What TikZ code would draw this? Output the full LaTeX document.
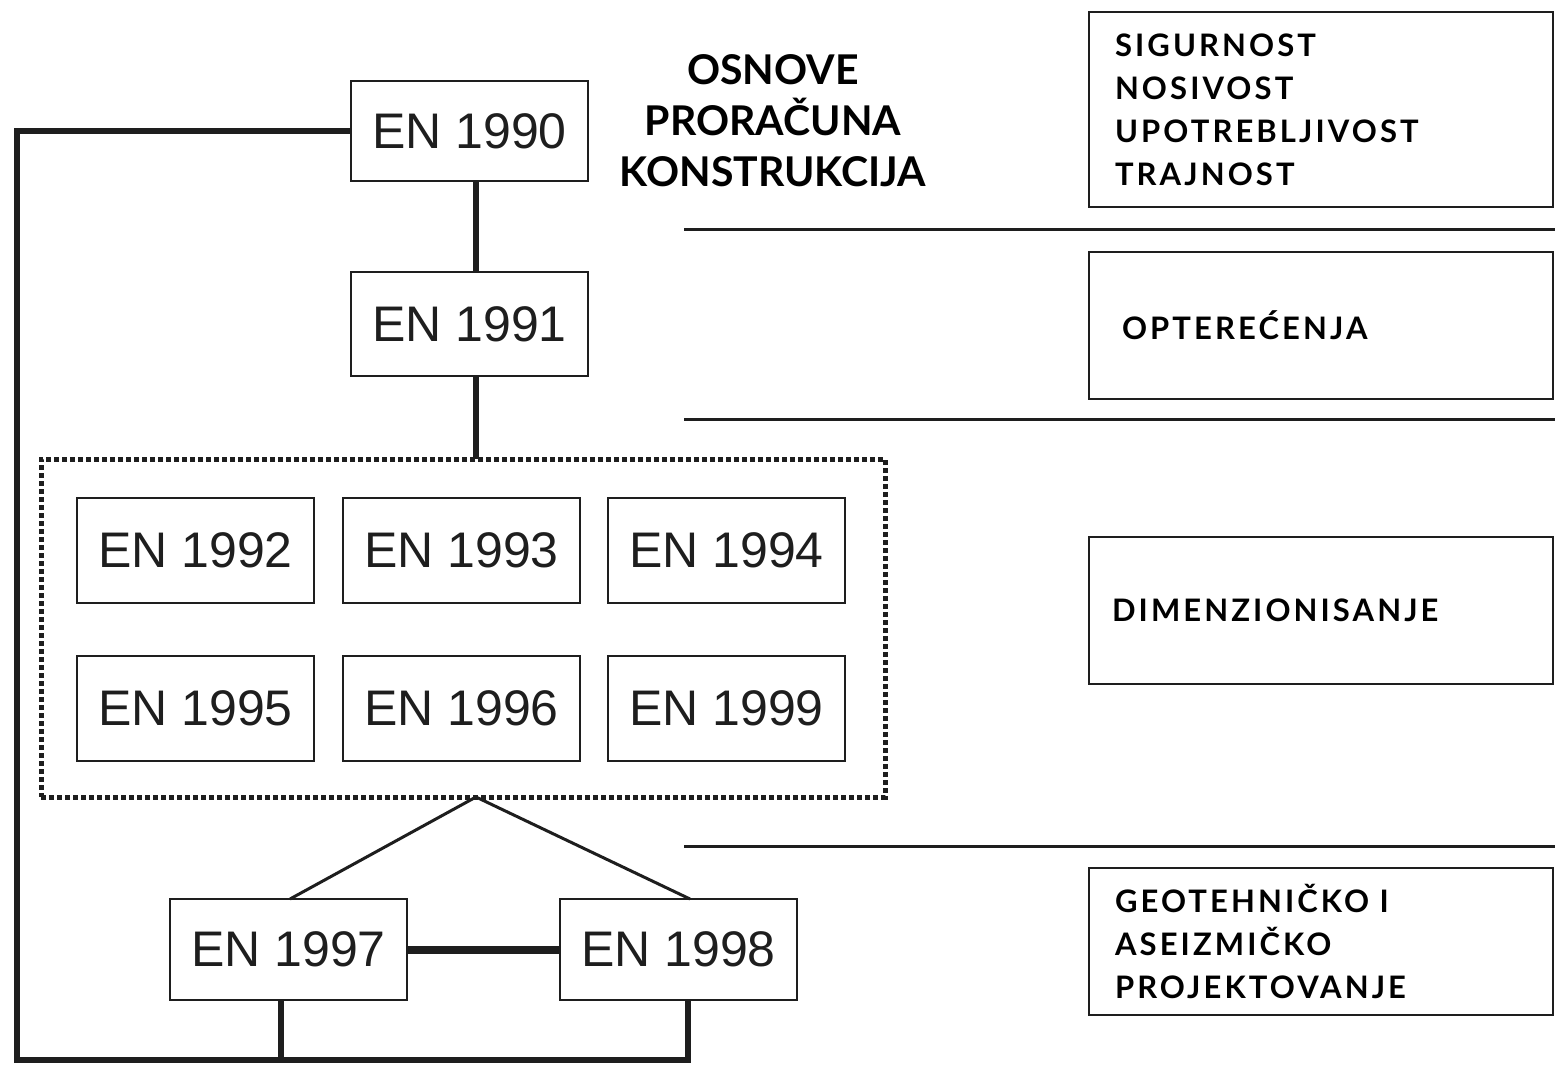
\documentclass[tikz,border=0pt]{standalone}
\usepackage{fontspec}
\setmainfont{Liberation Sans}
\newfontfamily\titlefont{Lato}[UprightFont=* Bold]
\newfontfamily\boxfont{Lato}[UprightFont=* Bold, LetterSpace=10]
\definecolor{ink}{HTML}{1E1E1E}
\begin{document}
\begin{tikzpicture}[x=1pt,y=-1pt,
  enbox/.style={draw=ink, line width=2.5pt, minimum width=237pt, minimum height=102pt,
     inner sep=0pt, font=\fontsize{50}{55}\selectfont, text=ink},
  rbox/.style={draw=ink, line width=2.5pt, minimum width=464pt, minimum height=147pt,
     text width=412pt, inner xsep=26pt, inner ysep=0pt, align=left,
     font=\boxfont\fontsize{31}{43}\selectfont},
  frame/.style={line width=6pt, draw=ink},
  thin/.style={line width=3pt, draw=ink},
  grp/.style={draw=ink, line width=5pt, dash pattern=on 5pt off 3pt,
     minimum width=844pt, minimum height=338pt, inner sep=0pt}
]
\useasboundingbox (0,0) rectangle (1555,1065);
% main column
\node[enbox, minimum height=100pt] (e1990) at (469.5,131) {EN 1990};
\node[enbox, minimum height=104pt] (e1991) at (469.5,324) {EN 1991};
\node[grp] (g) at (463,628) {};
\node[enbox, minimum height=105pt] (e1992) at (195.5,550.5) {EN 1992};
\node[enbox, minimum height=105pt] (e1993) at (461.5,550.5) {EN 1993};
\node[enbox, minimum height=105pt] (e1994) at (726.5,550.5) {EN 1994};
\node[enbox, minimum height=105pt] (e1995) at (195.5,708.5) {EN 1995};
\node[enbox, minimum height=105pt] (e1996) at (461.5,708.5) {EN 1996};
\node[enbox, minimum height=105pt] (e1999) at (726.5,708.5) {EN 1999};
\node[enbox, minimum height=101pt] (e1997) at (288.5,949.5) {EN 1997};
\node[enbox, minimum height=101pt] (e1998) at (678.5,949.5) {EN 1998};
% title
\node[font=\titlefont\fontsize{41}{51}\selectfont, align=center, text=black] (title) at (773,121)
  {OSNOVE\\PRORAČUNA\\KONSTRUKCIJA};
% connectors
\coordinate (apex) at (476,797);
\coordinate (bl) at (17,1060);
\draw[frame] (476,181) coordinate (a1) -- (476,272) coordinate (a2);
\draw[frame] (476,376) coordinate (a3) -- (476,459) coordinate (a4);
\draw[thin] (apex) -- (290,899) coordinate (t1);
\draw[thin] (apex) -- (690,899) coordinate (t2);
\draw[frame, line width=8pt] (e1997.east) -- (e1998.west);
\draw[frame] (e1990.west) -| (bl) -- (688,1060) coordinate (br) -- (688,1000) coordinate (b2);
\draw[frame] (281,1000) coordinate (b1) -- (281,1060) coordinate (bm);
% right column
\node[rbox, minimum height=195pt] (r1) at (1321,109.5) {SIGURNOST\\NOSIVOST\\UPOTREBLJIVOST\\TRAJNOST};
\node[rbox] (r2) at (1321,325.5) {\hspace*{7pt}OPTEREĆENJA};
\node[rbox] (r3) at (1321,610.5) {\hspace*{-3pt}DIMENZIONISANJE};
\node[rbox] (r4) at (1321,941.5) {GEOTEHNIČKO I\\ASEIZMIČKO\\PROJEKTOVANJE};
\draw[thin] (684,229) coordinate (s1a) -- (1555,229) coordinate (s1b);
\draw[thin] (684,419) coordinate (s2a) -- (1555,419) coordinate (s2b);
\draw[thin] (684,846) coordinate (s3a) -- (1555,846) coordinate (s3b);
\end{tikzpicture}
\end{document}
